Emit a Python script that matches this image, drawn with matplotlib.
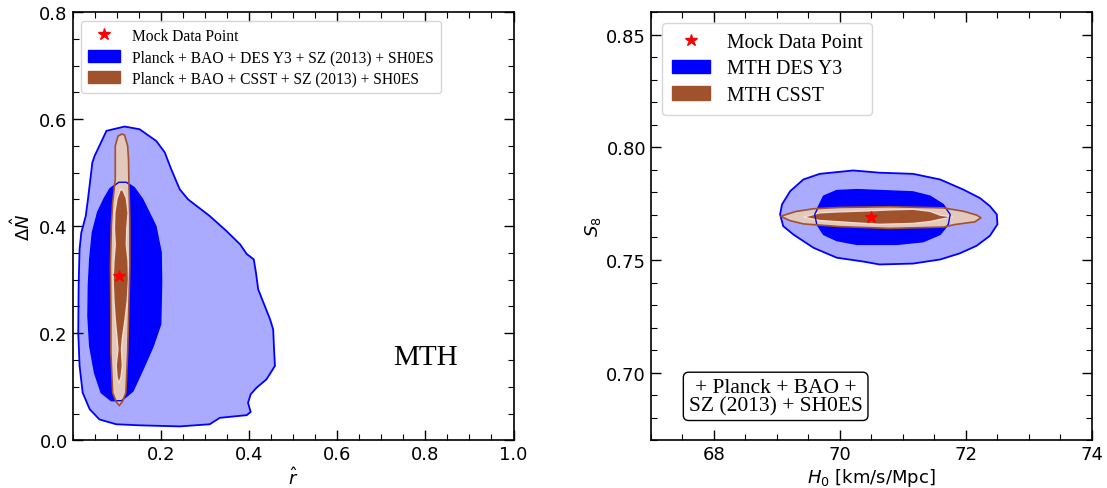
import numpy as np
import matplotlib
matplotlib.use('Agg')
import matplotlib.pyplot as plt
from matplotlib.lines import Line2D
from matplotlib.patches import Patch
from matplotlib.ticker import MultipleLocator, FormatStrFormatter

#%% contour outlines (data coordinates)
# left panel: r_hat vs Delta N_hat
des_outer_r = [0.118, 0.077, 0.061, 0.050, 0.045, 0.035, 0.030, 0.020, 0.016, 0.014, 0.013, 0.016,
               0.023, 0.039, 0.061, 0.099, 0.152, 0.243, 0.311, 0.334, 0.395, 0.404, 0.398, 0.404,
               0.417, 0.440, 0.459, 0.457, 0.455, 0.448, 0.433, 0.421, 0.416, 0.411, 0.395, 0.380,
               0.349, 0.311, 0.262, 0.243, 0.224, 0.209, 0.190, 0.152]
des_outer_n = [0.586, 0.578, 0.550, 0.531, 0.519, 0.450, 0.419, 0.388, 0.357, 0.295, 0.201, 0.139,
               0.089, 0.058, 0.039, 0.030, 0.028, 0.026, 0.030, 0.042, 0.047, 0.053, 0.070, 0.086,
               0.098, 0.114, 0.139, 0.170, 0.207, 0.226, 0.257, 0.282, 0.313, 0.338, 0.348, 0.366,
               0.391, 0.419, 0.450, 0.469, 0.506, 0.538, 0.559, 0.581]
des_inner_r = [0.105, 0.085, 0.072, 0.057, 0.045, 0.039, 0.036, 0.035, 0.039, 0.050, 0.065, 0.088,
               0.111, 0.137, 0.160, 0.183, 0.200, 0.202, 0.201, 0.189, 0.159, 0.140, 0.122]
des_inner_n = [0.482, 0.470, 0.452, 0.426, 0.388, 0.338, 0.290, 0.232, 0.176, 0.126, 0.089, 0.074,
               0.074, 0.092, 0.133, 0.176, 0.217, 0.295, 0.351, 0.400, 0.450, 0.472, 0.482]
csst_outer_r = [0.112, 0.103, 0.097, 0.097, 0.091, 0.088, 0.086, 0.087, 0.087, 0.091, 0.099, 0.106,
                0.113, 0.121, 0.125, 0.128, 0.130, 0.130, 0.128, 0.127, 0.125, 0.118]
csst_outer_n = [0.572, 0.568, 0.550, 0.488, 0.444, 0.401, 0.326, 0.232, 0.164, 0.089, 0.072, 0.065,
                0.072, 0.089, 0.164, 0.258, 0.326, 0.413, 0.475, 0.525, 0.550, 0.570]
csst_inner_r = [0.109, 0.101, 0.096, 0.095, 0.097, 0.094, 0.092, 0.094, 0.097, 0.101, 0.103, 0.099,
                0.101, 0.105, 0.110, 0.113, 0.111, 0.113, 0.119, 0.124, 0.127, 0.126, 0.122, 0.123,
                0.126, 0.122, 0.115]
csst_inner_n = [0.469, 0.452, 0.425, 0.395, 0.365, 0.335, 0.300, 0.260, 0.225, 0.190, 0.170, 0.140,
                0.118, 0.106, 0.118, 0.140, 0.170, 0.190, 0.225, 0.260, 0.300, 0.335, 0.365, 0.395,
                0.425, 0.452, 0.466]
mock_r, mock_n = 0.105, 0.307

# right panel: H0 vs S8
des_outer_h0 = [69.05, 69.08, 69.21, 69.42, 69.68, 70.21, 70.63, 71.16, 71.59, 71.96, 72.22, 72.38,
                72.49, 72.50, 72.38, 72.17, 71.90, 71.59, 71.16, 70.63, 70.37, 69.95, 69.58, 69.26,
                69.10]
des_outer_s8 = [0.7702, 0.7746, 0.7805, 0.7857, 0.7882, 0.7897, 0.7887, 0.7882, 0.7857, 0.7812,
                0.7775, 0.7739, 0.7702, 0.7658, 0.7607, 0.7563, 0.7529, 0.7502, 0.7484, 0.7480,
                0.7493, 0.7510, 0.7554, 0.7613, 0.7650]
des_inner_h0 = [69.60, 69.74, 69.95, 70.27, 70.63, 71.16, 71.43, 71.64, 71.75, 71.72, 71.59, 71.32,
                70.90, 70.27, 69.95, 69.74, 69.63]
des_inner_s8 = [0.7702, 0.7783, 0.7808, 0.7812, 0.7808, 0.7802, 0.7783, 0.7746, 0.7702, 0.7658,
                0.7613, 0.7581, 0.7569, 0.7569, 0.7586, 0.7613, 0.7660]
csst_outer_h0 = [69.06, 69.30, 69.58, 70.00, 70.79, 71.64, 71.96, 72.17, 72.24, 72.14, 71.82, 71.65,
                 70.79, 70.00, 69.42, 69.20]
csst_outer_s8 = [0.7694, 0.7715, 0.7727, 0.7733, 0.7736, 0.7731, 0.7716, 0.7699, 0.7687, 0.7669,
                 0.7657, 0.7646, 0.7640, 0.7648, 0.7660, 0.7675]
csst_inner_h0 = [69.42, 69.68, 69.95, 70.47, 70.79, 71.16, 71.43, 71.59, 71.80, 71.59, 71.43, 71.16,
                 70.63, 70.21, 69.68]
csst_inner_s8 = [0.7690, 0.7709, 0.7713, 0.7718, 0.7722, 0.7725, 0.7716, 0.7699, 0.7690, 0.7680,
                 0.7670, 0.7662, 0.7658, 0.7665, 0.7675]
mock_h0, mock_s8 = 70.5, 0.7692

left_labels = ['Mock Data Point', 'Planck + BAO + DES Y3 + SZ (2013) + SH0ES',
               'Planck + BAO + CSST + SZ (2013) + SH0ES']
right_labels = ['Mock Data Point', 'MTH DES Y3', 'MTH CSST']

#%% style
BLUE, LBLUE = '#0000ff', '#aaaaff'
BROWN, LBROWN = '#a0522d', '#e3c9bc'
serif = ['Liberation Serif', 'DejaVu Serif']
plt.rcParams['font.family'] = 'DejaVu Sans'
plt.rcParams['mathtext.fontset'] = 'dejavusans'


def contours(ax, do_x, do_y, di_x, di_y, co_x, co_y, ci_x, ci_y):
    ax.fill(do_x, do_y, color=LBLUE, lw=0, zorder=1)
    ax.fill(do_x, do_y, fill=False, ec=BLUE, lw=1.3, zorder=5)
    ax.fill(di_x, di_y, color=BLUE, lw=0, zorder=2)
    ax.fill(co_x, co_y, color=LBROWN, lw=0, zorder=3)
    ax.fill(ci_x, ci_y, color=BROWN, ec='#f1dcd2', lw=1.0, zorder=4)
    ax.fill(di_x, di_y, fill=False, ec=BLUE, lw=1.0, zorder=5)
    ax.fill(co_x, co_y, fill=False, ec=BROWN, lw=1.2, zorder=6)


def style(ax):
    ax.tick_params(which='both', direction='in', top=True, right=True, labelsize=13)
    ax.tick_params(which='major', length=7, width=1)
    ax.tick_params(which='minor', length=4, width=0.8)
    for s in ax.spines.values():
        s.set_linewidth(1.2)


fig = plt.figure(figsize=(11.07, 4.89), dpi=100)
ax1 = fig.add_axes([0.0655, 0.0975, 0.3984, 0.876])
ax2 = fig.add_axes([0.588, 0.0975, 0.3984, 0.876])

#%% left panel
contours(ax1, des_outer_r, des_outer_n, des_inner_r, des_inner_n,
         csst_outer_r, csst_outer_n, csst_inner_r, csst_inner_n)
ax1.plot(mock_r, mock_n, '*', color='red', ms=9, zorder=7)
ax1.set_xlim(0, 1.0)
ax1.set_ylim(0, 0.8)
ax1.set_xticks([0.2, 0.4, 0.6, 0.8, 1.0])
ax1.set_yticks([0.0, 0.2, 0.4, 0.6, 0.8])
ax1.xaxis.set_minor_locator(MultipleLocator(0.05))
ax1.yaxis.set_minor_locator(MultipleLocator(0.05))
ax1.xaxis.set_major_formatter(FormatStrFormatter('%.1f'))
ax1.yaxis.set_major_formatter(FormatStrFormatter('%.1f'))
style(ax1)
ax1.set_xlabel(r'$\hat{r}$', fontsize=13, labelpad=2)
ax1.set_ylabel(r'$\Delta\hat{N}$', fontsize=13, labelpad=4)
ax1.text(0.80, 0.155, 'MTH', fontsize=21, family=serif, ha='center', va='center')
h1 = [Line2D([], [], ls='none', marker='*', color='red', ms=9),
      Patch(color=BLUE), Patch(color=BROWN)]
ax1.legend(h1, left_labels, loc='upper left', prop={'family': serif, 'size': 11.2},
           handlelength=2.05, handleheight=0.8, handletextpad=0.8, labelspacing=0.35,
           borderpad=0.45, borderaxespad=0.55)

#%% right panel
contours(ax2, des_outer_h0, des_outer_s8, des_inner_h0, des_inner_s8,
         csst_outer_h0, csst_outer_s8, csst_inner_h0, csst_inner_s8)
ax2.plot(mock_h0, mock_s8, '*', color='red', ms=9, zorder=7)
ax2.set_xlim(67, 74)
ax2.set_ylim(0.67, 0.86)
ax2.set_xticks([68, 70, 72, 74])
ax2.set_yticks([0.70, 0.75, 0.80, 0.85])
ax2.xaxis.set_minor_locator(MultipleLocator(0.5))
ax2.yaxis.set_minor_locator(MultipleLocator(0.01))
ax2.yaxis.set_major_formatter(FormatStrFormatter('%.2f'))
style(ax2)
ax2.set_xlabel(r'$H_0$ [km/s/Mpc]', fontsize=13, labelpad=2)
ax2.set_ylabel(r'$S_8$', fontsize=13, labelpad=2)
ax2.text(68.98, 0.6895, '+ Planck + BAO +\nSZ (2013) + SH0ES', fontsize=15.5, family=serif,
         ha='center', va='center', linespacing=0.95,
         bbox=dict(boxstyle='round,pad=0.25', fc='white', ec='black', lw=1))
h2 = [Line2D([], [], ls='none', marker='*', color='red', ms=9),
      Patch(color=BLUE), Patch(color=BROWN)]
ax2.legend(h2, right_labels, loc='upper left', prop={'family': serif, 'size': 14.3},
           handlelength=1.95, handleheight=0.65, handletextpad=0.82, labelspacing=0.38,
           borderpad=0.5, borderaxespad=0.55)

fig.savefig('out.png', dpi=100)
